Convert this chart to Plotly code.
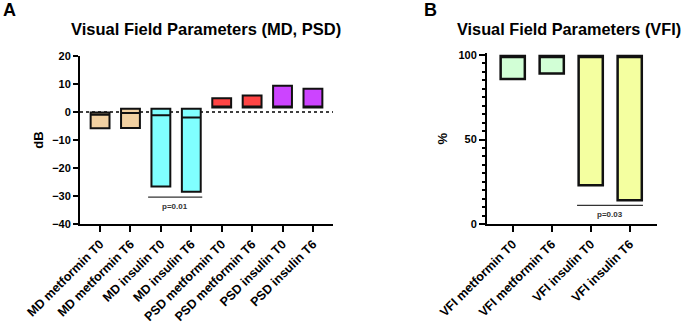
import plotly.graph_objects as go

# ---- Panel A data (dB) ----
cats_a = ["MD metformin T0", "MD metformin T6", "MD insulin T0", "MD insulin T6",
          "PSD metformin T0", "PSD metformin T6", "PSD insulin T0", "PSD insulin T6"]
min_a = [-5.8, -5.7, -26.6, -28.5, 1.6, 1.6, 1.6, 1.6]
med_a = [-1.0, -0.4, -1.2, -2.0, 1.9, 1.9, 2.0, 2.0]
max_a = [-0.2, 1.2, 1.2, 1.2, 4.9, 5.9, 9.4, 8.3]
colors_a = ["#F2D1A2", "#F2D1A2", "#80FFFF", "#80FFFF",
            "#FF4444", "#FF4444", "#CC44FF", "#CC44FF"]

# ---- Panel B data (%) ----
cats_b = ["VFI metformin T0", "VFI metformin T6", "VFI insulin T0", "VFI insulin T6"]
min_b = [85.8, 89.0, 23.0, 14.0]
med_b = [99.4, 99.4, 99.4, 99.4]
max_b = [99.4, 99.4, 99.4, 99.4]
colors_b = ["#D2FFD6", "#D2FFD6", "#F4FFA0", "#F4FFA0"]

pval_a = "p=0.01"
pval_b = "p=0.03"

W, H = 685, 323
fig = go.Figure()

def add_boxes(cats, mins, meds, maxs, colors, xa, ya, lw):
    for c, lo, md, hi, col in zip(cats, mins, meds, maxs, colors):
        fig.add_trace(go.Box(
            x=[c], q1=[lo], median=[md], q3=[hi], lowerfence=[lo], upperfence=[hi],
            fillcolor=col, line=dict(color="#111111", width=lw), whiskerwidth=0,
            width=0.62, boxpoints=False, showlegend=False, xaxis=xa, yaxis=ya,
            hoverinfo="skip"))

add_boxes(cats_a, min_a, med_a, max_a, colors_a, "x", "y", 2)
add_boxes(cats_b, min_b, med_b, max_b, colors_b, "x2", "y2", 2.5)

def px_x(p):
    return p / W

def px_y(p):
    return 1 - p / H

FAM = "Arial, Liberation Sans"
ytickfont = dict(family=FAM, size=11, color="black", weight="bold")
xtickfont = dict(family=FAM, size=12.5, color="black", weight="bold")
axis_common = dict(showline=True, linecolor="black", linewidth=2, ticks="outside",
                   tickcolor="black", tickwidth=2, showgrid=False, zeroline=False,
                   automargin=False)

fig.update_layout(
    width=W, height=H, margin=dict(l=0, r=0, t=0, b=0),
    plot_bgcolor="white", paper_bgcolor="white", boxmode="overlay",
    xaxis=dict(domain=[px_x(80), px_x(333)], anchor="y", type="category",
               categoryorder="array", categoryarray=cats_a, range=[-0.66, 7.66],
               tickangle=-45, ticklen=6, tickfont=xtickfont, **axis_common),
    yaxis=dict(domain=[px_y(224), px_y(56)], anchor="x", range=[-40, 20],
               tickvals=[-40, -30, -20, -10, 0, 10, 20], ticklen=5, tickfont=ytickfont,
               title=dict(text="dB", font=dict(family=FAM, size=13,
                                                color="black", weight="bold"), standoff=6),
               **axis_common),
    xaxis2=dict(domain=[px_x(487), px_x(657)], anchor="y2", type="category",
                categoryorder="array", categoryarray=cats_b, range=[-0.66, 3.7],
                tickangle=-45, ticklen=6, tickfont=xtickfont, **axis_common),
    yaxis2=dict(domain=[px_y(224), px_y(224 - 169 * 1.01)], anchor="x2", range=[0, 101],
                tickvals=[0, 50, 100], ticklen=6, tickfont=ytickfont,
                minor=dict(dtick=5, ticklen=3, ticks="outside", tickcolor="black", tickwidth=1.5),
                title=dict(text="%", font=dict(family=FAM, size=13,
                                               color="black", weight="bold"), standoff=8),
                **axis_common),
)

# dotted zero line in panel A
fig.add_shape(type="line", xref="x domain", yref="y", x0=0, x1=1, y0=0, y1=0,
              line=dict(color="black", width=1.5, dash="dot"), layer="below")

# p-value brackets
fig.add_shape(type="line", xref="x", yref="y", x0=1.58, x1=3.36, y0=-30.4, y1=-30.4,
              line=dict(color="#333333", width=1.2))
fig.add_shape(type="line", xref="x2", yref="y2", x0=1.65, x1=3.34, y0=11, y1=11,
              line=dict(color="#333333", width=1.2))

anno_font = dict(family=FAM, color="black", weight="bold")
annos = [
    dict(x=2.47, y=-33.8, xref="x", yref="y", text=pval_a,
         font=dict(size=8, color="#333333", family=FAM, weight="bold")),
    dict(x=2.5, y=5.8, xref="x2", yref="y2", text=pval_b,
         font=dict(size=8, color="#333333", family=FAM, weight="bold")),
    dict(x=px_x(206), y=px_y(29), xref="paper", yref="paper",
         text="Visual Field Parameters (MD, PSD)", font=dict(size=16.5, **anno_font)),
    dict(x=px_x(569), y=px_y(29), xref="paper", yref="paper",
         text="Visual Field Parameters (VFI)", font=dict(size=16.3, **anno_font)),
    dict(x=px_x(9), y=px_y(10), xref="paper", yref="paper", text="A",
         font=dict(size=18, **anno_font)),
    dict(x=px_x(430), y=px_y(10), xref="paper", yref="paper", text="B",
         font=dict(size=18, **anno_font)),
]
for a in annos:
    fig.add_annotation(showarrow=False, xanchor="center", yanchor="middle", **a)

fig.write_html("out.html", config={"displayModeBar": False},
               post_script="document.body.style.margin='0';document.body.style.overflow='hidden';")
